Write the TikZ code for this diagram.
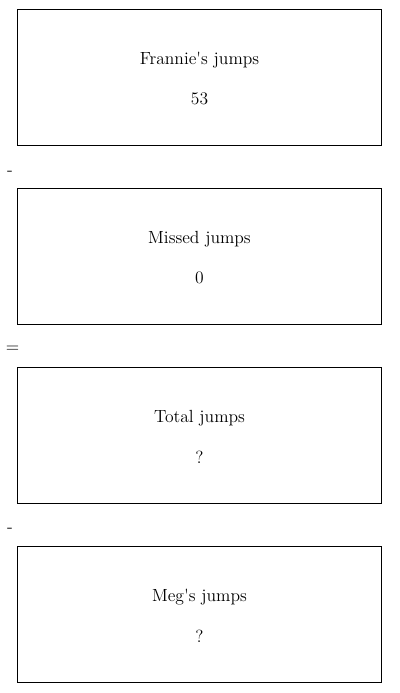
\documentclass[tikz,border=0pt]{standalone}
\begin{document}
\begin{tikzpicture}[x = 0.025cm, y = -0.025cm,
    box/.style = {draw, line width = 0.7pt, minimum width = 9.075cm, minimum height = 3.375cm, inner sep = 0pt},
    txt/.style = {font = \fontsize{12.5}{15}\selectfont, inner sep = 0pt}]
      \useasboundingbox (0, 0) rectangle (400, 693);
      \node [box] (frannie) at (199.5, 77.5) {};
      \node [box] (missed) at (199.5, 256.5) {};
      \node [box] (total) at (199.5, 435.5) {};
      \node [box] (meg) at (199.5, 614.5) {};
      \node [txt] (frannietitle) at (199.5, 60) {Frannie\textquotesingle s jumps};
      \node [txt] (frannienum) at (199.5, 99) {53};
      \node [txt] (missedtitle) at (199.5, 239) {Missed jumps};
      \node [txt] (missednum) at (199.5, 278) {0};
      \node [txt] (totaltitle) at (199.5, 418) {Total jumps};
      \node [txt] (totalnum) at (199.5, 457) {?};
      \node [txt] (megtitle) at (199.5, 597) {Meg\textquotesingle s jumps};
      \node [txt] (megnum) at (199.5, 636) {?};
      \node [txt] (minusa) at (10, 173) {-};
      \node [txt] (equals) at (12.5, 349) {=};
      \node [txt] (minusb) at (10, 530) {-};
    \end{tikzpicture}
\end{document}
